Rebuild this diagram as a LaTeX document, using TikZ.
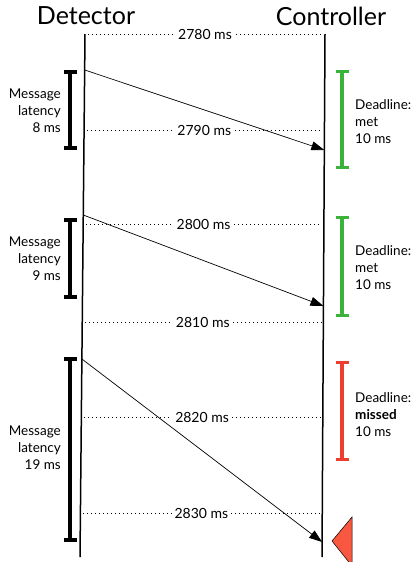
\documentclass[tikz,border=0pt]{standalone}
\usepackage{fontspec}
\setmainfont{Lato}
\usetikzlibrary{arrows.meta,calc}
\definecolor{okgreen}{HTML}{3BB33B}
\definecolor{missred}{HTML}{EE3E30}
\definecolor{flagred}{HTML}{F85840}
\tikzset{
  title/.style={font=\fontsize{25}{28}\selectfont, inner sep=0pt},
  lifeline/.style={line width=1.5pt},
  tickline/.style={line width=0.7pt, dash pattern=on 0.8pt off 3.2pt},
  stamp/.style={fill=white, font=\fontsize{14}{16}\selectfont, inner xsep=3pt, inner ysep=1pt},
  msg/.style={line width=0.7pt, -{Triangle[length=13pt,width=9pt]}},
  latbar/.style={line width=3.6pt, {Bar[width=13pt]}-{Bar[width=13pt]}},
  dlbar/.style={latbar, line width=3.2pt},
  note/.style={font=\fontsize{13.5}{17}\selectfont, inner sep=0pt},
  latnote/.style={note, align=right, anchor=east},
  dlnote/.style={note, align=left, anchor=west},
  flag/.style={fill=flagred, draw=black, line width=0.5pt}
}
\begin{document}
\begin{tikzpicture}[x=1pt, y=-1pt]
  \useasboundingbox (0,0) rectangle (416,562);

  % column heads
  \node[title] (dethead) at (86,16) {Detector};
  \node[title] (conhead) at (331,16) {Controller};

  % lifelines
  \coordinate (dtop) at (85,34);
  \coordinate (dbot) at (80,557);
  \coordinate (ctop) at (325,34);
  \coordinate (cbot) at (322,557);
  \draw[lifeline] (dtop) -- (dbot);
  \draw[lifeline] (ctop) -- (cbot);

  % time marks
  \foreach \t/\ty in {2780/34, 2790/130, 2800/224, 2810/322, 2820/417, 2830/513} {
    \coordinate (tl\t) at ($(dtop)!{(\ty-34)/523}!(dbot)$);
    \coordinate (tr\t) at ($(ctop)!{(\ty-34)/523}!(cbot)$);
    \draw[tickline] ($(tl\t)+(3,0)$) -- ($(tr\t)+(-2,0)$);
    \node[stamp] (st\t) at ($(tl\t)!0.5!(tr\t)$) {\t\ ms};
  }

  % messages
  \coordinate (m1s) at ($(dtop)!{36/523}!(dbot)$);
  \coordinate (m1e) at ($(ctop)!{116/523}!(cbot)$);
  \coordinate (m2s) at ($(dtop)!{181/523}!(dbot)$);
  \coordinate (m2e) at ($(ctop)!{272/523}!(cbot)$);
  \coordinate (m3s) at ($(dtop)!{325/523}!(dbot)$);
  \coordinate (m3e) at ($(ctop)!{508/523}!(cbot)$);
  \draw[msg] (m1s) -- (m1e);
  \draw[msg] (m2s) -- (m2e);
  \draw[msg] (m3s) -- (m3e);

  % latency bars
  \coordinate (l1a) at (70,70);  \coordinate (l1b) at (70,150);
  \coordinate (l2a) at (70,218); \coordinate (l2b) at (70,299);
  \coordinate (l3a) at (70,357); \coordinate (l3b) at (70,542);
  \draw[latbar] (l1a) -- (l1b);
  \draw[latbar] (l2a) -- (l2b);
  \draw[latbar] (l3a) -- (l3b);
  \node[latnote] (lat1) at (61,111) {Message\\latency\\8 ms};
  \node[latnote] (lat2) at (61,259) {Message\\latency\\9 ms};
  \node[latnote] (lat3) at (61,448) {Message\\latency\\19 ms};

  % deadlines
  \coordinate (d1a) at (342,70);  \coordinate (d1b) at (342,169);
  \coordinate (d2a) at (342,216); \coordinate (d2b) at (342,317);
  \coordinate (d3a) at (342,361); \coordinate (d3b) at (342,461);
  \draw[dlbar, okgreen] (d1a) -- (d1b);
  \draw[dlbar, okgreen] (d2a) -- (d2b);
  \draw[dlbar, missred] (d3a) -- (d3b);
  \node[dlnote] (dl1) at (355,122) {Deadline:\\met\\10 ms};
  \node[dlnote] (dl2) at (355,268) {Deadline:\\met\\10 ms};
  \node[dlnote] (dl3) at (355,415) {Deadline:\\\textbf{missed}\\10 ms};

  % missed marker
  \draw[flag] (332,541) -- (352,517) -- (352,566) -- cycle;
\end{tikzpicture}
\end{document}
